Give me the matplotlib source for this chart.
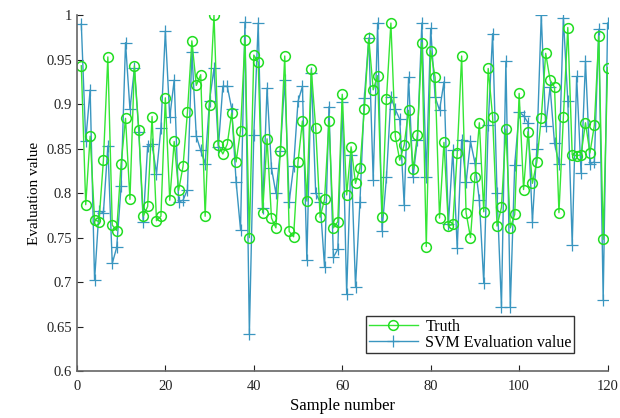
import matplotlib
matplotlib.use("Agg")
import matplotlib.pyplot as plt
from matplotlib.ticker import FormatStrFormatter

# sample numbers 1..120
samples = list(range(1, 121))

truth = [
    0.943, 0.787, 0.864, 0.770, 0.768, 0.837, 0.953, 0.764, 0.758, 0.833,
    0.884, 0.793, 0.943, 0.871, 0.774, 0.785, 0.886, 0.769, 0.774, 0.907,
    0.792, 0.858, 0.803, 0.830, 0.891, 0.971, 0.921, 0.933, 0.774, 0.899,
    1.000, 0.854, 0.844, 0.855, 0.890, 0.835, 0.870, 0.972, 0.750, 0.955,
    0.947, 0.778, 0.861, 0.772, 0.761, 0.847, 0.954, 0.757, 0.751, 0.835,
    0.881, 0.791, 0.939, 0.873, 0.773, 0.793, 0.881, 0.761, 0.768, 0.911,
    0.798, 0.852, 0.811, 0.828, 0.895, 0.974, 0.916, 0.932, 0.773, 0.906,
    0.991, 0.864, 0.837, 0.854, 0.893, 0.827, 0.865, 0.969, 0.740, 0.960,
    0.930, 0.772, 0.857, 0.763, 0.765, 0.845, 0.954, 0.778, 0.750, 0.818,
    0.879, 0.779, 0.940, 0.886, 0.763, 0.784, 0.872, 0.761, 0.776, 0.912,
    0.804, 0.869, 0.811, 0.835, 0.884, 0.957, 0.927, 0.919, 0.778, 0.885,
    0.986, 0.843, 0.842, 0.843, 0.879, 0.845, 0.876, 0.976, 0.748, 0.941,
]

svm = [
    0.990, 0.859, 0.916, 0.702, 0.780, 0.778, 0.853, 0.721, 0.739, 0.808,
    0.969, 0.894, 0.940, 0.869, 0.768, 0.853, 0.855, 0.822, 0.873, 0.982,
    0.885, 0.927, 0.790, 0.792, 0.804, 0.959, 0.864, 0.848, 0.833, 0.904,
    0.940, 0.852, 0.920, 0.920, 0.895, 0.813, 0.759, 0.992, 0.642, 0.865,
    0.991, 0.783, 0.918, 0.828, 0.800, 0.847, 0.927, 0.790, 0.830, 0.903,
    0.920, 0.725, 0.935, 0.800, 0.790, 0.717, 0.897, 0.728, 0.737, 0.902,
    0.687, 0.843, 0.695, 0.790, 0.907, 0.974, 0.815, 0.991, 0.758, 0.818,
    0.908, 0.894, 0.883, 0.787, 0.930, 0.818, 0.860, 0.991, 0.818, 0.985,
    0.908, 0.893, 0.925, 0.765, 0.848, 0.738, 0.860, 0.812, 0.858, 0.834,
    0.792, 0.699, 0.877, 0.979, 0.800, 0.672, 0.948, 0.672, 0.832, 0.891,
    0.887, 0.879, 0.768, 0.850, 1.000, 0.875, 0.919, 0.856, 0.833, 0.997,
    0.904, 0.742, 0.931, 0.823, 0.948, 0.833, 0.835, 0.984, 0.680, 0.991,
]

yticks = [0.6, 0.65, 0.7, 0.75, 0.8, 0.85, 0.9, 0.95, 1.0]
xticks = [0, 20, 40, 60, 80, 100, 120]

plt.rcParams['font.family'] = ['Liberation Serif', 'DejaVu Serif']

fig = plt.figure(figsize=(6.2, 4.18), dpi=100)
ax = fig.add_axes([0.124, 0.112, 0.856, 0.852])

l2, = ax.plot(samples, svm, color='#3a96c0', lw=1.0, marker='+', ms=8, mew=0.9)
l1, = ax.plot(samples, truth, color='#35e635', lw=1.0, marker='o', ms=7,
              mfc='none', mec='#22dd22', mew=1.1)

ax.set_xlim(0, 120)
ax.set_ylim(0.6, 1.0)
ax.set_xticks(xticks)
ax.set_yticks(yticks)
ax.yaxis.set_major_formatter(FormatStrFormatter('%g'))
ax.tick_params(direction='in', length=4, labelsize=10.5, colors='#222222')
ax.tick_params(axis='x', pad=6)
for s in ['top', 'right']:
    ax.spines[s].set_visible(False)
for s in ['left', 'bottom']:
    ax.spines[s].set_color('#666666')
    ax.spines[s].set_linewidth(1.2)

ax.set_xlabel('Sample number', fontsize=12, labelpad=4)
ax.set_ylabel('Evaluation value', fontsize=11, labelpad=4)

leg = ax.legend([l1, l2], ['Truth', 'SVM Evaluation value'], loc='lower left',
                bbox_to_anchor=(0.545, 0.051), borderaxespad=0, fancybox=False,
                edgecolor='#333333', handlelength=3.1, handletextpad=0.45,
                fontsize=11.5, borderpad=0.15, labelspacing=0.0, framealpha=1)
leg.get_frame().set_linewidth(1.0)

fig.savefig('out.png', dpi=100)
